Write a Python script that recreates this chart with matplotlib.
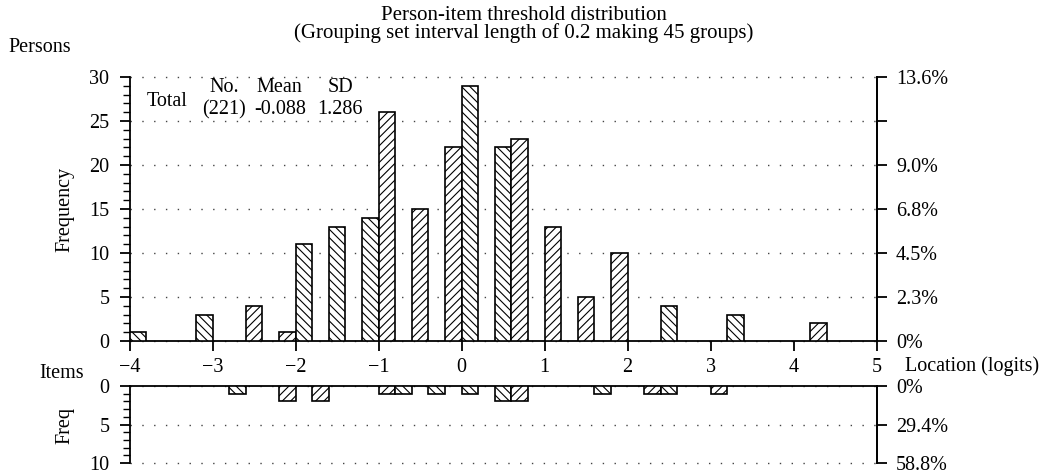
import matplotlib
matplotlib.use("Agg")
import matplotlib.pyplot as plt
from matplotlib.ticker import MultipleLocator, FixedLocator

# ---------------- data ----------------
# Persons: left edge of 0.2-logit group, frequency
person_bins = [-4.0, -3.2, -2.6, -2.2, -2.0, -1.6, -1.2, -1.0, -0.6, -0.2,
               0.0, 0.4, 0.6, 1.0, 1.4, 1.8, 2.4, 3.2, 4.2]
person_freq = [1, 3, 4, 1, 11, 13, 14, 26, 15, 22,
               29, 22, 23, 13, 5, 10, 4, 3, 2]
# Items: left edge of group, frequency
item_bins = [-2.8, -2.2, -1.8, -1.0, -0.8, -0.4, 0.0, 0.4, 0.6, 1.6, 2.2, 2.4, 3.0]
item_freq = [1, 2, 2, 1, 1, 1, 1, 2, 2, 1, 1, 1, 1]

x_ticks = [-4, -3, -2, -1, 0, 1, 2, 3, 4, 5]
person_yticks = [0, 5, 10, 15, 20, 25, 30]
person_pct_labels = ["0%", "2.3%", "4.5%", "6.8%", "9.0%", "", "13.6%"]
item_yticks = [0, 5, 10]
item_pct_labels = ["0%", "29.4%", "58.8%"]
stats_header = ["No.", "Mean", "SD"]
stats_values = ["(221)", "-0.088", "1.286"]
group_width = 0.2
x_min, x_max = -4.0, 5.0

# ---------------- style ----------------
plt.rcParams['font.family'] = ['Liberation Serif', 'DejaVu Serif']
plt.rcParams['font.size'] = 14.5
plt.rcParams['hatch.linewidth'] = 0.8
plt.rcParams['axes.linewidth'] = 1.3
plt.rcParams['xtick.major.width'] = 1.3
plt.rcParams['ytick.major.width'] = 1.3
plt.rcParams['ytick.minor.width'] = 1.0

fig = plt.figure(figsize=(10.47, 4.74), dpi=100)
W, H = 1047, 474

def frac_rect(x0, y_top, x1, y_bot):
    return [x0 / W, 1 - y_bot / H, (x1 - x0) / W, (y_bot - y_top) / H]

ax = fig.add_axes(frac_rect(129.5, 77, 876.5, 341))
ax2 = fig.add_axes(frac_rect(129.5, 386, 876.5, 463))

def hatch_for(left):
    idx = int(round((left - x_min) / group_width))
    return '\\\\\\\\' if idx % 2 == 0 else '////'

dot = (0, (1, 7.5))

# ---- top panel ----
for xl, h in zip(person_bins, person_freq):
    ax.bar(xl, h, width=group_width, align='edge', facecolor='white',
           edgecolor='black', linewidth=1.2, hatch=hatch_for(xl), zorder=3)
ax.set_xlim(x_min, x_max)
ax.set_ylim(0, 30)
ax.spines['top'].set_visible(False)
ax.yaxis.set_major_locator(FixedLocator(person_yticks))
ax.yaxis.set_minor_locator(MultipleLocator(1))
ax.tick_params(axis='y', which='major', length=7, pad=7.5, direction='out')
ax.tick_params(axis='y', which='minor', length=5, direction='out')
ax.set_xticks(x_ticks)
ax.tick_params(axis='x', which='major', length=7, pad=5, direction='out')
ax.grid(axis='y', linestyle=dot, color='#444444', linewidth=1.0, zorder=0)
for gl in ax.get_ygridlines():
    gl.set_clip_on(False)
ax.set_axisbelow(True)

axr = ax.twinx()
axr.set_ylim(0, 30)
axr.set_yticks(person_yticks)
axr.set_yticklabels(person_pct_labels)
axr.tick_params(axis='y', length=7, pad=7, direction='out')
for s in ['top', 'left', 'bottom']:
    axr.spines[s].set_visible(False)

# statistics box
ax.text(-3.55, 27.2, "Total", ha='center', va='center')
for xc, head, val in zip([-2.86, -2.19, -1.46], stats_header, stats_values):
    ax.text(xc, 28.75, head, ha='center', va='center')
    ax.text(xc, 26.25, val, ha='center', va='center')

# ---- bottom panel ----
for xl, h in zip(item_bins, item_freq):
    ax2.bar(xl, h, width=group_width, align='edge', facecolor='white',
            edgecolor='black', linewidth=1.2, hatch=hatch_for(xl), zorder=3)
ax2.set_xlim(x_min, x_max)
ax2.set_ylim(10, 0)
ax2.spines['bottom'].set_visible(False)
ax2.set_xticks([])
ax2.yaxis.set_major_locator(FixedLocator(item_yticks))
ax2.yaxis.set_minor_locator(MultipleLocator(1))
ax2.tick_params(axis='y', which='major', length=7, pad=7.5, direction='out')
ax2.tick_params(axis='y', which='minor', length=5, direction='out')
ax2.grid(axis='y', linestyle=dot, color='#444444', linewidth=1.0, zorder=0)
for gl in ax2.get_ygridlines():
    gl.set_clip_on(False)

ax2r = ax2.twinx()
ax2r.set_ylim(10, 0)
ax2r.set_yticks(item_yticks)
ax2r.set_yticklabels(item_pct_labels)
ax2r.tick_params(axis='y', length=7, pad=7, direction='out')
for s in ['top', 'left', 'bottom']:
    ax2r.spines[s].set_visible(False)

# ---- text labels ----
fig.text(0.5, 1 - 15 / H, "Person-item threshold distribution",
         ha='center', va='center', fontsize=15)
fig.text(0.5, 1 - 33 / H, "(Grouping set interval length of 0.2 making 45 groups)",
         ha='center', va='center', fontsize=15)
fig.text(8 / W, 1 - 48 / H, "Persons", ha='left', va='center')
fig.text(84 / W, 1 - 373 / H, "Items", ha='right', va='center')
fig.text(905 / W, 1 - 366 / H, "Location (logits)", ha='left', va='center')
fig.text(65 / W, 1 - 209 / H, "Frequency", rotation=90, ha='center', va='center')
fig.text(65 / W, 1 - 425 / H, "Freq", rotation=90, ha='center', va='center')

fig.savefig("out.png", dpi=100)
